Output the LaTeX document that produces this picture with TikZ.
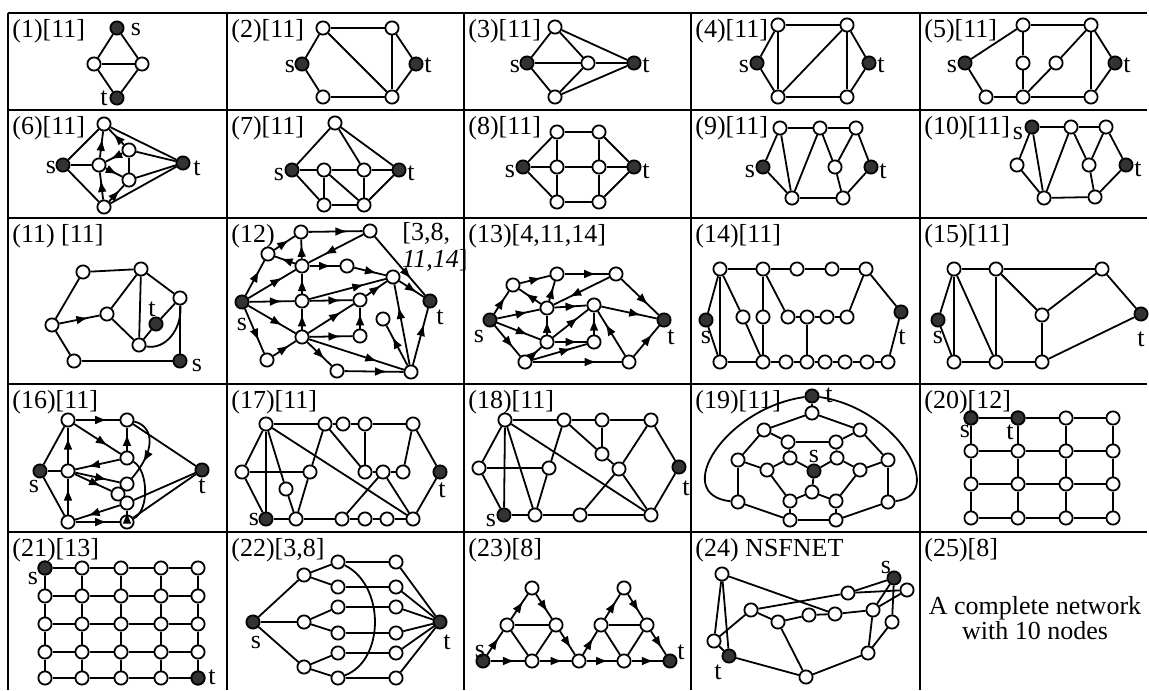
\documentclass[tikz,border=0pt]{standalone}
\usepackage{fontspec}
\setmainfont{Liberation Serif}
\usetikzlibrary{arrows.meta,decorations.markings}
\newcommand\vx[3]{\node[v] (#1) at (#2,#3) {};}
\newcommand\fx[3]{\node[fv] (#1) at (#2,#3) {};}
\newcommand\ed[2]{\draw[edg] (#1)--(#2);}
\newcommand\ad[2]{\draw[edg,ar] (#1)--(#2);}
\begin{document}
\begin{tikzpicture}[x=0.5pt,y=-0.5pt,
  v/.style={circle,draw,fill=white,inner sep=0pt,minimum size=6.6pt,line width=0.9pt},
  fv/.style={v,fill=black!80},
  edg/.style={line width=0.9pt},
  ar/.style={postaction={decorate},decoration={markings,mark=at position 0.72 with {\arrow{Latex[length=6pt,width=4.4pt]}}}},
  grid/.style={line width=1.2pt},
  lab/.style={anchor=north west,inner sep=0pt,font=\fontsize{13}{13}\selectfont},
  stl/.style={inner sep=0pt,font=\fontsize{13}{13}\selectfont}]
\useasboundingbox (0,0) rectangle (1149,690);
% grid
\foreach \yy in {13,110,218,384,532} {\draw[grid] (8,\yy) -- (1147,\yy);}
\foreach \xx in {8,227,464,691,920} {\draw[grid] (\xx,13) -- (\xx,690);}
% labels
\node[lab] at (12,19) {(1)[11]};
\node[lab] at (231,19) {(2)[11]};
\node[lab] at (468,19) {(3)[11]};
\node[lab] at (695,19) {(4)[11]};
\node[lab] at (924,19) {(5)[11]};
\node[lab] at (12,116) {(6)[11]};
\node[lab] at (231,116) {(7)[11]};
\node[lab] at (468,116) {(8)[11]};
\node[lab] at (695,116) {(9)[11]};
\node[lab] at (924,116) {(10)[11]};
\node[lab] at (12,224) {(11) [11]};
\node[lab] at (231,224) {(12)};
\node[lab] at (402,222) {[3,8,};
\node[lab] at (402,249) {\textit{11,14}]};
\node[lab] at (468,224) {(13)[4,11,14]};
\node[lab] at (695,224) {(14)[11]};
\node[lab] at (924,224) {(15)[11]};
\node[lab] at (12,390) {(16)[11]};
\node[lab] at (231,390) {(17)[11]};
\node[lab] at (468,390) {(18)[11]};
\node[lab] at (695,390) {(19)[11]};
\node[lab] at (924,390) {(20)[12]};
\node[lab] at (12,538) {(21)[13]};
\node[lab] at (231,538) {(22)[3,8]};
\node[lab] at (468,538) {(23)[8]};
\node[lab] at (695,538) {(24) NSFNET};
\node[lab] at (924,538) {(25)[8]};
% (1)
\fx{g1s}{117}{28} \vx{g1l}{94}{64} \vx{g1r}{142}{64} \fx{g1t}{117}{98}
\ed{g1s}{g1l} \ed{g1s}{g1r} \ed{g1l}{g1r} \ed{g1l}{g1t} \ed{g1r}{g1t}
\node[stl] at (136,30) {s}; \node[stl] at (104,98) {t};
% (2)
\vx{g2a}{323}{28} \vx{g2b}{392}{28} \fx{g2s}{302}{64} \fx{g2t}{416}{64} \vx{g2c}{323}{97} \vx{g2d}{392}{97}
\ed{g2a}{g2b} \ed{g2a}{g2s} \ed{g2a}{g2d} \ed{g2b}{g2d} \ed{g2b}{g2t} \ed{g2s}{g2c} \ed{g2c}{g2d} \ed{g2t}{g2d}
\node[stl] at (290,67) {s}; \node[stl] at (428,65) {t};
% (3)
\vx{g3a}{555}{27} \fx{g3s}{527}{63} \vx{g3m}{588}{63} \fx{g3t}{634}{63} \vx{g3b}{555}{97}
\ed{g3a}{g3s} \ed{g3a}{g3m} \ed{g3a}{g3t} \ed{g3s}{g3m} \ed{g3m}{g3t} \ed{g3s}{g3b} \ed{g3m}{g3b} \ed{g3t}{g3b}
\node[stl] at (515,67) {s}; \node[stl] at (646,65) {t};
% (4)
\vx{g4a}{778}{25} \vx{g4b}{847}{25} \fx{g4s}{757}{63} \fx{g4t}{869}{63} \vx{g4c}{778}{97} \vx{g4d}{847}{97}
\ed{g4a}{g4b} \ed{g4a}{g4s} \ed{g4a}{g4c} \ed{g4b}{g4c} \ed{g4b}{g4d} \ed{g4b}{g4t} \ed{g4s}{g4c} \ed{g4c}{g4d} \ed{g4t}{g4d}
\node[stl] at (744,67) {s}; \node[stl] at (881,65) {t};
% (5)
\vx{g5a}{1023}{25} \vx{g5b}{1091}{25} \fx{g5s}{965}{63} \vx{g5m}{1023}{63} \vx{g5n}{1056}{63} \fx{g5t}{1115}{63}
\vx{g5c}{986}{97} \vx{g5d}{1023}{97} \vx{g5e}{1091}{97}
\ed{g5a}{g5b} \ed{g5a}{g5s} \ed{g5a}{g5m} \ed{g5m}{g5d} \ed{g5b}{g5n} \ed{g5n}{g5d} \ed{g5b}{g5e} \ed{g5b}{g5t}
\ed{g5s}{g5c} \ed{g5c}{g5d} \ed{g5d}{g5e} \ed{g5t}{g5e}
\node[stl] at (952,67) {s}; \node[stl] at (1127,65) {t};
% (6)
\vx{g6T}{104}{124} \fx{g6s}{63}{165} \vx{g6C}{99}{165} \vx{g6U}{129}{150} \vx{g6L}{129}{180} \vx{g6B}{104}{207} \fx{g6t}{183}{163}
\ed{g6T}{g6s} \ed{g6s}{g6C} \ed{g6s}{g6B} \ed{g6U}{g6L} \ed{g6T}{g6t} \ed{g6U}{g6t} \ed{g6L}{g6t} \ed{g6B}{g6t}
\ad{g6C}{g6T} \ad{g6B}{g6C} \ad{g6U}{g6T} \ad{g6U}{g6C} \ad{g6C}{g6L} \ad{g6B}{g6L}
\node[stl] at (51,168) {s}; \node[stl] at (197,168) {t};
% (7)
\vx{g7T}{335}{123} \fx{g7s}{292}{170} \vx{g7a}{324}{170} \vx{g7b}{364}{170} \fx{g7t}{399}{170} \vx{g7c}{324}{205} \vx{g7d}{364}{205}
\ed{g7T}{g7s} \ed{g7T}{g7b} \ed{g7T}{g7t} \ed{g7s}{g7a} \ed{g7a}{g7b} \ed{g7b}{g7t} \ed{g7s}{g7c} \ed{g7a}{g7c} \ed{g7a}{g7d} \ed{g7b}{g7d} \ed{g7c}{g7d} \ed{g7d}{g7t}
\node[stl] at (279,175) {s}; \node[stl] at (411,173) {t};
% (8)
\vx{g8a}{557}{132} \vx{g8b}{599}{132} \fx{g8s}{523}{167} \vx{g8c}{557}{167} \vx{g8d}{599}{167} \fx{g8t}{634}{167} \vx{g8e}{557}{202} \vx{g8f}{599}{202}
\ed{g8a}{g8b} \ed{g8s}{g8a} \ed{g8a}{g8c} \ed{g8b}{g8d} \ed{g8b}{g8t} \ed{g8s}{g8c} \ed{g8c}{g8d} \ed{g8d}{g8t} \ed{g8s}{g8e} \ed{g8c}{g8e} \ed{g8d}{g8f} \ed{g8e}{g8f} \ed{g8t}{g8f}
\node[stl] at (510,171) {s}; \node[stl] at (646,171) {t};
% (9)
\vx{g9a}{780}{128} \vx{g9b}{820}{128} \vx{g9c}{856}{128} \fx{g9s}{763}{167} \vx{g9m}{835}{167} \fx{g9t}{871}{167} \vx{g9d}{792}{198} \vx{g9e}{843}{198}
\ed{g9a}{g9b} \ed{g9b}{g9c} \ed{g9a}{g9s} \ed{g9a}{g9d} \ed{g9b}{g9d} \ed{g9b}{g9m} \ed{g9c}{g9m} \ed{g9c}{g9t} \ed{g9s}{g9d} \ed{g9d}{g9e} \ed{g9m}{g9e} \ed{g9t}{g9e}
\node[stl] at (750,171) {s}; \node[stl] at (883,171) {t};
% (10)
\fx{g10s}{1032}{127} \vx{g10b}{1071}{127} \vx{g10c}{1106}{127} \vx{g10l}{1017}{165} \vx{g10m}{1089}{165} \fx{g10t}{1126}{165} \vx{g10d}{1044}{198} \vx{g10e}{1095}{197}
\ed{g10s}{g10b} \ed{g10b}{g10c} \ed{g10s}{g10l} \ed{g10s}{g10d} \ed{g10b}{g10d} \ed{g10b}{g10m} \ed{g10c}{g10m} \ed{g10c}{g10t} \ed{g10l}{g10d} \ed{g10d}{g10e} \ed{g10m}{g10e} \ed{g10t}{g10e}
\node[stl] at (1018,134) {s}; \node[stl] at (1138,169) {t};
% (11)
\vx{g11a}{83}{272} \vx{g11b}{141}{269} \vx{g11r}{180}{298} \vx{g11l}{52}{325} \vx{g11c}{107}{314} \fx{g11t}{156}{324} \vx{g11d}{139}{345} \vx{g11e}{74}{361} \fx{g11s}{180}{361}
\ed{g11a}{g11b} \ed{g11a}{g11l} \ad{g11l}{g11c} \ed{g11c}{g11b} \ed{g11b}{g11d} \ed{g11b}{g11r} \ed{g11c}{g11d} \ed{g11d}{g11t} \ed{g11t}{g11r} \ed{g11r}{g11s} \ed{g11l}{g11e} \ed{g11e}{g11s}
\draw[edg] (g11d) .. controls (165,350) and (182,330) .. (g11r);
\node[stl] at (152,309) {t}; \node[stl] at (197,365) {s};
% (12)
\vx{g12a}{301}{232} \vx{g12b}{370}{231} \vx{g12c}{268}{254} \vx{g12d}{302}{266} \vx{g12e}{347}{266} \vx{g12h}{393}{277}
\fx{g12s}{242}{302} \vx{g12f}{302}{301} \vx{g12g}{360}{300} \fx{g12t}{430}{301} \vx{g12k}{383}{319}
\vx{g12i}{302}{337} \vx{g12j}{360}{336} \vx{g12l}{267}{360} \vx{g12m}{337}{371} \vx{g12n}{411}{372}
\ad{g12s}{g12c} \ad{g12s}{g12d} \ad{g12s}{g12f} \ad{g12s}{g12i} \ad{g12s}{g12l}
\ad{g12c}{g12a} \ad{g12d}{g12a} \ad{g12a}{g12b} \ad{g12b}{g12d} \ad{g12d}{g12c} \ad{g12d}{g12e} \ad{g12f}{g12d} \ad{g12i}{g12f}
\ad{g12e}{g12h} \ad{g12f}{g12h} \ad{g12f}{g12g} \ad{g12g}{g12h} \ad{g12i}{g12g} \ad{g12j}{g12g} \ad{g12i}{g12j}
\ad{g12i}{g12m} \ad{g12i}{g12n} \ad{g12l}{g12i} \ad{g12m}{g12n} \ad{g12n}{g12k} \ad{g12n}{g12h} \ad{g12n}{g12t} \ad{g12h}{g12t} \ad{g12b}{g12t}
\node[stl] at (242,324) {s}; \node[stl] at (440,317) {t};
% (13)
\vx{g13a}{513}{285} \vx{g13b}{557}{274} \vx{g13c}{616}{274} \fx{g13s}{490}{320} \vx{g13d}{547}{308} \vx{g13e}{594}{305} \fx{g13t}{664}{320}
\vx{g13f}{547}{342} \vx{g13g}{594}{342} \vx{g13h}{525}{362} \vx{g13i}{629}{362}
\ad{g13s}{g13a} \ad{g13a}{g13b} \ad{g13b}{g13c} \ad{g13c}{g13d} \ad{g13d}{g13a} \ad{g13d}{g13b} \ad{g13c}{g13t}
\ad{g13s}{g13d} \ad{g13s}{g13f} \ad{g13s}{g13h} \ad{g13d}{g13e} \ad{g13f}{g13d} \ad{g13f}{g13e} \ad{g13e}{g13t}
\ad{g13g}{g13e} \ad{g13f}{g13g} \ad{g13h}{g13f} \ad{g13h}{g13g} \ad{g13h}{g13i} \ad{g13i}{g13e} \ad{g13i}{g13t}
\node[stl] at (479,336) {s}; \node[stl] at (671,337) {t};
% (14)
\vx{g14a}{720}{269} \vx{g14b}{763}{269} \vx{g14c}{797}{269} \vx{g14d}{832}{269} \vx{g14e}{866}{269}
\fx{g14s}{706}{320} \fx{g14t}{901}{312}
\vx{g14f}{743}{317} \vx{g14g}{763}{317} \vx{g14h}{788}{317} \vx{g14i}{807}{317} \vx{g14j}{827}{317} \vx{g14k}{847}{317}
\vx{g14p}{720}{362} \vx{g14q}{763}{362} \vx{g14r}{786}{362} \vx{g14u}{807}{362} \vx{g14w}{825}{362} \vx{g14x}{845}{362} \vx{g14y}{867}{362} \vx{g14z}{888}{362}
\ed{g14a}{g14b} \ed{g14b}{g14c} \ed{g14c}{g14d} \ed{g14d}{g14e} \ed{g14a}{g14s} \ed{g14a}{g14p} \ed{g14a}{g14f} \ed{g14f}{g14q}
\ed{g14b}{g14g} \ed{g14g}{g14q} \ed{g14b}{g14h} \ed{g14h}{g14i} \ed{g14i}{g14j} \ed{g14j}{g14k} \ed{g14i}{g14u} \ed{g14k}{g14e}
\ed{g14e}{g14t} \ed{g14t}{g14z} \ed{g14s}{g14p}
\ed{g14p}{g14q} \ed{g14q}{g14r} \ed{g14r}{g14u} \ed{g14u}{g14w} \ed{g14w}{g14x} \ed{g14x}{g14y} \ed{g14y}{g14z}
\node[stl] at (706,337) {s}; \node[stl] at (902,337) {t};
% (15)
\vx{g15a}{954}{269} \vx{g15b}{996}{269} \vx{g15c}{1102}{269} \fx{g15s}{938}{320} \vx{g15m}{1042}{315} \fx{g15t}{1141}{314}
\vx{g15d}{954}{362} \vx{g15e}{996}{362} \vx{g15f}{1042}{362}
\ed{g15a}{g15b} \ed{g15b}{g15c} \ed{g15a}{g15s} \ed{g15a}{g15d} \ed{g15a}{g15e} \ed{g15b}{g15e} \ed{g15b}{g15m} \ed{g15m}{g15c}
\ed{g15m}{g15f} \ed{g15c}{g15t} \ed{g15t}{g15f} \ed{g15s}{g15d} \ed{g15d}{g15e} \ed{g15e}{g15f}
\node[stl] at (938,337) {s}; \node[stl] at (1141,339) {t};
% (16)
\vx{g16a}{68}{420} \vx{g16b}{127}{420} \fx{g16s}{40}{471} \vx{g16c}{68}{471} \vx{g16d}{127}{458}
\vx{g16e}{127}{484} \vx{g16f}{118}{494} \vx{g16i}{127}{503} \vx{g16g}{68}{522} \vx{g16h}{127}{522} \fx{g16t}{202}{470}
\ed{g16s}{g16a} \ed{g16s}{g16c} \ed{g16s}{g16g}
\ad{g16a}{g16b} \ad{g16c}{g16a} \ad{g16a}{g16d} \ad{g16d}{g16b} \ad{g16d}{g16c} \ad{g16c}{g16e} \ad{g16c}{g16f}
\ad{g16i}{g16g} \ad{g16g}{g16c} \ad{g16g}{g16h} \ad{g16h}{g16i}
\ed{g16b}{g16t} \ed{g16i}{g16t} \ed{g16h}{g16t}
\draw[edg,ar] (g16b) .. controls (150,425) and (160,445) .. (g16e);
\draw[edg] (g16d) .. controls (148,470) and (150,510) .. (g16h);
\node[stl] at (34,486) {s}; \node[stl] at (202,486) {t};
% (17)
\vx{g17a}{266}{424} \vx{g17b}{325}{424} \vx{g17c}{343}{424} \vx{g17d}{365}{424} \vx{g17e}{413}{424}
\vx{g17l}{242}{472} \vx{g17m}{310}{472} \vx{g17k}{286}{489} \vx{g17n}{365}{472} \vx{g17o}{383}{472} \vx{g17p}{403}{472} \fx{g17t}{440}{472}
\fx{g17s}{266}{519} \vx{g17f}{296}{519} \vx{g17g}{342}{519} \vx{g17h}{365}{519} \vx{g17i}{387}{519} \vx{g17j}{413}{519}
\ed{g17a}{g17b} \ed{g17b}{g17c} \ed{g17c}{g17d} \ed{g17d}{g17e} \ed{g17a}{g17l} \ed{g17a}{g17s} \ed{g17a}{g17k} \ed{g17a}{g17j}
\ed{g17k}{g17f} \ed{g17l}{g17m} \ed{g17l}{g17s} \ed{g17m}{g17b} \ed{g17m}{g17f} \ed{g17b}{g17n} \ed{g17d}{g17n}
\ed{g17n}{g17o} \ed{g17o}{g17p} \ed{g17p}{g17e} \ed{g17e}{g17t} \ed{g17t}{g17j} \ed{g17o}{g17g} \ed{g17o}{g17j}
\ed{g17s}{g17f} \ed{g17f}{g17g} \ed{g17g}{g17h} \ed{g17h}{g17i} \ed{g17i}{g17j}
\node[stl] at (254,519) {s}; \node[stl] at (442,490) {t};
% (18)
\vx{g18a}{505}{420} \vx{g18b}{564}{420} \vx{g18c}{602}{420} \vx{g18d}{651}{420}
\vx{g18l}{479}{468} \vx{g18m}{549}{468} \vx{g18p}{602}{454} \vx{g18q}{619}{469} \fx{g18t}{679}{467}
\fx{g18s}{504}{515} \vx{g18e}{535}{515} \vx{g18f}{580}{515} \vx{g18g}{651}{515}
\ed{g18a}{g18b} \ed{g18b}{g18c} \ed{g18c}{g18d} \ed{g18a}{g18l} \ed{g18a}{g18s} \ed{g18a}{g18e} \ed{g18a}{g18g}
\ed{g18l}{g18m} \ed{g18l}{g18s} \ed{g18m}{g18b} \ed{g18m}{g18e} \ed{g18b}{g18p} \ed{g18c}{g18p} \ed{g18p}{g18q}
\ed{g18q}{g18f} \ed{g18q}{g18g} \ed{g18q}{g18d} \ed{g18d}{g18t} \ed{g18t}{g18g} \ed{g18s}{g18e} \ed{g18e}{g18f} \ed{g18f}{g18g}
\node[stl] at (491,520) {s}; \node[stl] at (686,488) {t};
% (19)
\fx{g19t}{812}{396} \vx{g19a}{812}{413} \vx{g19b}{764}{430} \vx{g19c}{860}{430} \vx{g19d}{788}{442} \vx{g19e}{836}{442}
\vx{g19f}{738}{460} \vx{g19g}{767}{470} \vx{g19h}{790}{458} \fx{g19s}{814}{471} \vx{g19i}{837}{458} \vx{g19j}{860}{470} \vx{g19k}{888}{460}
\vx{g19l}{738}{502} \vx{g19m}{790}{501} \vx{g19n}{812}{492} \vx{g19o}{836}{501} \vx{g19p}{888}{502} \vx{g19q}{790}{520} \vx{g19r}{836}{520}
\ed{g19t}{g19a} \ed{g19a}{g19b} \ed{g19a}{g19c} \ed{g19b}{g19d} \ed{g19b}{g19f} \ed{g19c}{g19e} \ed{g19c}{g19k} \ed{g19d}{g19e}
\ed{g19d}{g19h} \ed{g19e}{g19i} \ed{g19f}{g19g} \ed{g19g}{g19h} \ed{g19h}{g19s} \ed{g19s}{g19i} \ed{g19i}{g19j} \ed{g19j}{g19k}
\ed{g19f}{g19l} \ed{g19k}{g19p} \ed{g19g}{g19m} \ed{g19j}{g19o} \ed{g19s}{g19n} \ed{g19m}{g19n} \ed{g19n}{g19o}
\ed{g19m}{g19q} \ed{g19o}{g19r} \ed{g19l}{g19q} \ed{g19p}{g19r} \ed{g19q}{g19r}
\draw[edg] (g19t) .. controls (725,408) and (670,495) .. (g19l);
\draw[edg] (g19t) .. controls (897,408) and (948,495) .. (g19p);
\node[stl] at (829,395) {t}; \node[stl] at (814,456) {s};
% (20)
\foreach \i/\xx in {0/971,1/1018,2/1066,3/1113} {\foreach \j/\yy in {0/418,1/451,2/484,3/518} {\node[v] (g20-\i-\j) at (\xx,\yy) {};}}
\node[fv] (g20-0-0) at (971,418) {}; \node[fv] (g20-1-0) at (1018,418) {};
\foreach \i in {0,...,3} {\foreach \j [count=\jj] in {0,1,2} {\draw[edg] (g20-\i-\j) -- (g20-\i-\jj); \draw[edg] (g20-\j-\i) -- (g20-\jj-\i);}}
\node[stl] at (965,431) {s}; \node[stl] at (1010,432) {t};
% (21)
\foreach \i/\xx in {0/45,1/82,2/121,3/161,4/198} {\foreach \j/\yy in {0/568,1/596,2/624,3/652,4/678} {\node[v] (g21-\i-\j) at (\xx,\yy) {};}}
\node[fv] (g21-0-0) at (45,568) {}; \node[fv] (g21-4-4) at (198,678) {};
\foreach \i in {0,...,4} {\foreach \j [count=\jj] in {0,...,3} {\draw[edg] (g21-\i-\j) -- (g21-\i-\jj); \draw[edg] (g21-\j-\i) -- (g21-\jj-\i);}}
\node[stl] at (33,578) {s}; \node[stl] at (212,677) {t};
% (22)
\fx{g22s}{253}{622} \fx{g22t}{440}{622} \vx{g22l1}{304}{575} \vx{g22l2}{304}{622} \vx{g22l3}{304}{667}
\foreach \k/\yy in {1/562,2/587,3/607,4/633,5/653,6/678} {\node[v] (g22m\k) at (338,\yy) {}; \node[v] (g22r\k) at (396,\yy) {};
  \draw[edg] (g22m\k) -- (g22r\k); \draw[edg] (g22r\k) -- (g22t);}
\ed{g22s}{g22l1} \ed{g22s}{g22l2} \ed{g22s}{g22l3} \ed{g22l1}{g22m1} \ed{g22l1}{g22m2} \ed{g22l2}{g22m3} \ed{g22l2}{g22m4} \ed{g22l3}{g22m5} \ed{g22l3}{g22m6}
\draw[edg] (g22m1) .. controls (385,585) and (385,660) .. (g22m6);
\node[stl] at (256,642) {s}; \node[stl] at (447,642) {t};
% (23)
\fx{g23s}{483}{661} \vx{g23b}{532}{661} \vx{g23j}{579}{661} \vx{g23c}{624}{661} \fx{g23t}{670}{661}
\vx{g23m}{507}{625} \vx{g23n}{556}{625} \vx{g23a}{532}{588} \vx{g23o}{601}{625} \vx{g23p}{647}{625} \vx{g23q}{624}{588}
\ad{g23s}{g23m} \ad{g23m}{g23a} \ad{g23a}{g23n} \ad{g23n}{g23j} \ed{g23m}{g23n} \ed{g23m}{g23b} \ed{g23n}{g23b} \ad{g23s}{g23b} \ad{g23b}{g23j}
\ad{g23j}{g23o} \ad{g23o}{g23q} \ad{g23q}{g23p} \ad{g23p}{g23t} \ed{g23o}{g23p} \ed{g23o}{g23c} \ed{g23p}{g23c} \ad{g23j}{g23c} \ad{g23c}{g23t}
\node[stl] at (480,651) {s}; \node[stl] at (681,652) {t};
% (24)
\vx{g24a}{722}{574} \fx{g24s}{894}{578} \vx{g24b}{848}{593} \vx{g24c}{907}{590} \vx{g24d}{751}{610} \vx{g24e}{778}{622} \vx{g24f}{809}{615}
\vx{g24g}{835}{614} \vx{g24h}{873}{610} \vx{g24i}{892}{622} \vx{g24j}{714}{641} \vx{g24k}{868}{653} \fx{g24t}{729}{656} \vx{g24l}{806}{677}
\ed{g24a}{g24j} \ed{g24a}{g24t} \ed{g24a}{g24g} \ed{g24j}{g24d} \ed{g24d}{g24e} \ed{g24d}{g24b} \ed{g24b}{g24s} \ed{g24b}{g24c}
\ed{g24e}{g24f} \ed{g24f}{g24g} \ed{g24g}{g24h} \ed{g24h}{g24s} \ed{g24h}{g24c} \ed{g24s}{g24i} \ed{g24h}{g24k} \ed{g24i}{g24k}
\ed{g24e}{g24l} \ed{g24k}{g24l} \ed{g24t}{g24l} \ed{g24t}{g24j}
\node[stl] at (886,567) {s}; \node[stl] at (718,672) {t};
% (25)
\node[stl,align=center,font=\fontsize{13}{12.5}\selectfont] (g25txt) at (1035,618) {A complete network\\with 10 nodes};
\end{tikzpicture}
\end{document}
